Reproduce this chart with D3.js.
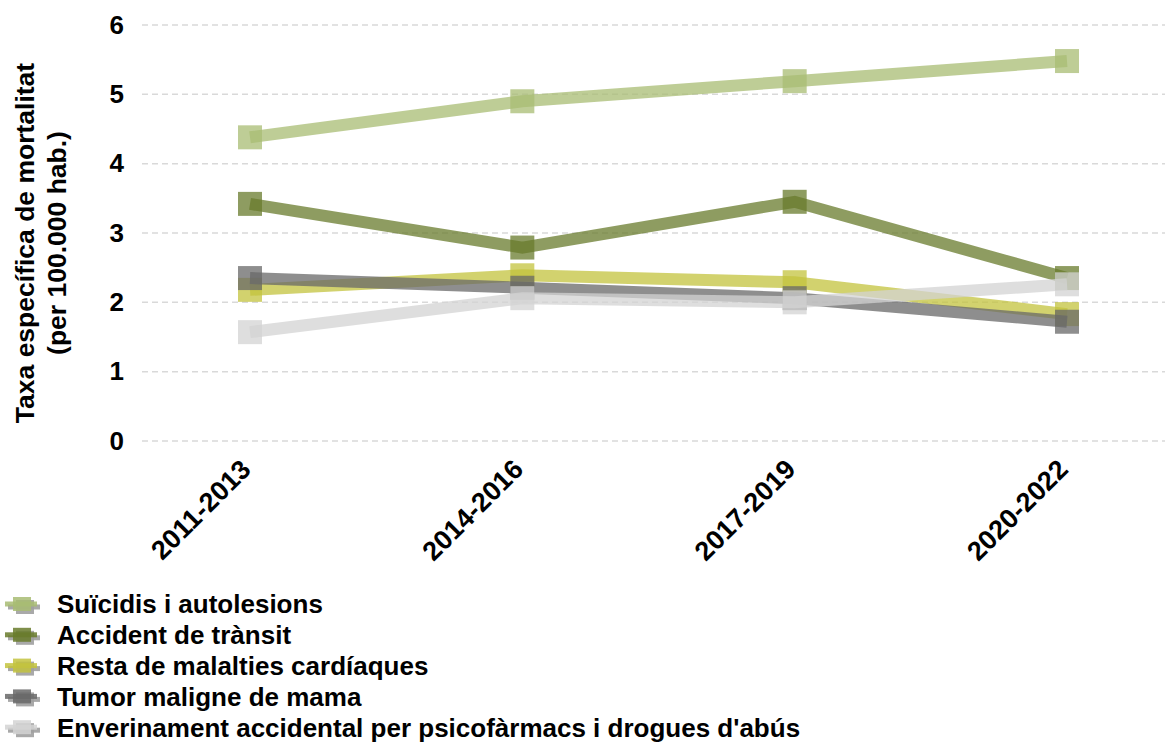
<!DOCTYPE html>
<html>
<head>
<meta charset="utf-8">
<script src="https://cdn.jsdelivr.net/npm/d3@7/dist/d3.min.js"></script>
<style>
  html, body { margin: 0; padding: 0; background: #fff; }
  svg { display: block; font-family: "Liberation Sans", Arial, sans-serif; font-weight: bold; }
</style>
</head>
<body>
<svg id="chart" width="1165" height="744"></svg>
<script>
// Periods on the x axis
const periods = ["2011-2013", "2014-2016", "2017-2019", "2020-2022"];

// Causes of death (series names) and their colours
const causes = [
  "Suïcidis i autolesions",
  "Accident de trànsit",
  "Resta de malalties cardíaques",
  "Tumor maligne de mama",
  "Enverinament accidental per psicofàrmacs i drogues d'abús"
];
const colors = ["#a8bc73", "#687b2c", "#c3c33e", "#686868", "#d3d3d3"];

// Specific mortality rate per 100,000 inhabitants, one array per cause
const suicidis     = [4.38, 4.90, 5.19, 5.48];
const transit      = [3.42, 2.79, 3.45, 2.35];
const cardiaques   = [2.18, 2.39, 2.29, 1.83];
const mama         = [2.35, 2.21, 2.06, 1.72];
const enverinament = [1.57, 2.06, 2.00, 2.26];
const seriesValues = [suicidis, transit, cardiaques, mama, enverinament];

// Y axis ticks
const yTicks = [0, 1, 2, 3, 4, 5, 6];
const yTitle = ["Taxa específica de mortalitat", "(per 100.000 hab.)"];

const FONT = "'Liberation Sans', Arial, sans-serif";
const svg = d3.select("#chart");
const W = 1165;

const x = d3.scalePoint().domain(periods).range([250, 1067]);
const y = d3.scaleLinear().domain([0, 6]).range([441, 25]);

// Dashed horizontal gridlines
svg.append("g").selectAll("line").data(yTicks).join("line")
  .attr("x1", 142).attr("x2", W)
  .attr("y1", d => y(d)).attr("y2", d => y(d))
  .attr("stroke", "#d9d9d9").attr("stroke-width", 1.5)
  .attr("stroke-dasharray", "6,4");

// Y axis tick labels
const yAxis = svg.append("g").attr("transform", "translate(124,0)")
  .call(d3.axisLeft(y).tickValues(yTicks).tickFormat(d3.format("d")).tickSize(0).tickPadding(0));
yAxis.select(".domain").remove();
yAxis.selectAll("text")
  .attr("font-family", FONT)
  .attr("font-weight", "bold").attr("font-size", 26).attr("fill", "#000");

// Y axis title (two lines, rotated)
const titleG = svg.append("g").attr("transform", "translate(0,243) rotate(-90)");
titleG.selectAll("text").data(yTitle).join("text")
  .attr("x", 0).attr("y", (d, i) => 34 + i * 32)
  .attr("text-anchor", "middle").attr("font-size", 26.5).attr("fill", "#000")
  .text(d => d);

// X axis labels, rotated -45°
const xAxis = svg.append("g").attr("transform", "translate(0,441)")
  .call(d3.axisBottom(x).tickSize(0).tickPadding(0));
xAxis.select(".domain").remove();
xAxis.selectAll("text")
  .attr("font-family", FONT)
  .attr("font-weight", "bold").attr("font-size", 27).attr("fill", "#000")
  .attr("text-anchor", "end")
  .attr("y", 0).attr("dy", 0)
  .attr("transform", "translate(2,30) rotate(-45)");

// Lines and square markers
const line = d3.line().x((d, i) => x(periods[i])).y(d => y(d));
const marker = 24;
const plot = svg.append("g");
seriesValues.forEach((vals, s) => {
  const g = plot.append("g");
  g.append("path").datum(vals)
    .attr("d", line).attr("fill", "none")
    .attr("stroke", colors[s]).attr("stroke-width", 12)
    .attr("stroke-opacity", 0.75);
  g.selectAll("rect").data(vals).join("rect")
    .attr("x", (d, i) => x(periods[i]) - marker / 2)
    .attr("y", d => y(d) - marker / 2)
    .attr("width", marker).attr("height", marker)
    .attr("fill", colors[s]).attr("fill-opacity", 0.75);
});

// Legend: line + square symbol with a soft grey shadow, then the label
const legend = svg.append("g").attr("transform", "translate(0,604)");
const rowH = 30.8;
causes.forEach((name, i) => {
  const g = legend.append("g").attr("transform", `translate(0,${i * rowH})`);
  const sym = (dx, dy, fill, op) => {
    g.append("rect").attr("x", 5 + dx).attr("y", -2.5 + dy).attr("width", 32).attr("height", 5)
      .attr("fill", fill).attr("opacity", op);
    g.append("rect").attr("x", 13 + dx).attr("y", -7 + dy).attr("width", 18).attr("height", 14)
      .attr("fill", fill).attr("opacity", op);
  };
  sym(3, 3, "#a0a0a0", 0.9);
  sym(0, 0, colors[i], 0.85);
  g.append("text").attr("x", 57).attr("y", 9.3)
    .attr("font-size", 26).attr("fill", "#000").text(name);
});
</script>
</body>
</html>
